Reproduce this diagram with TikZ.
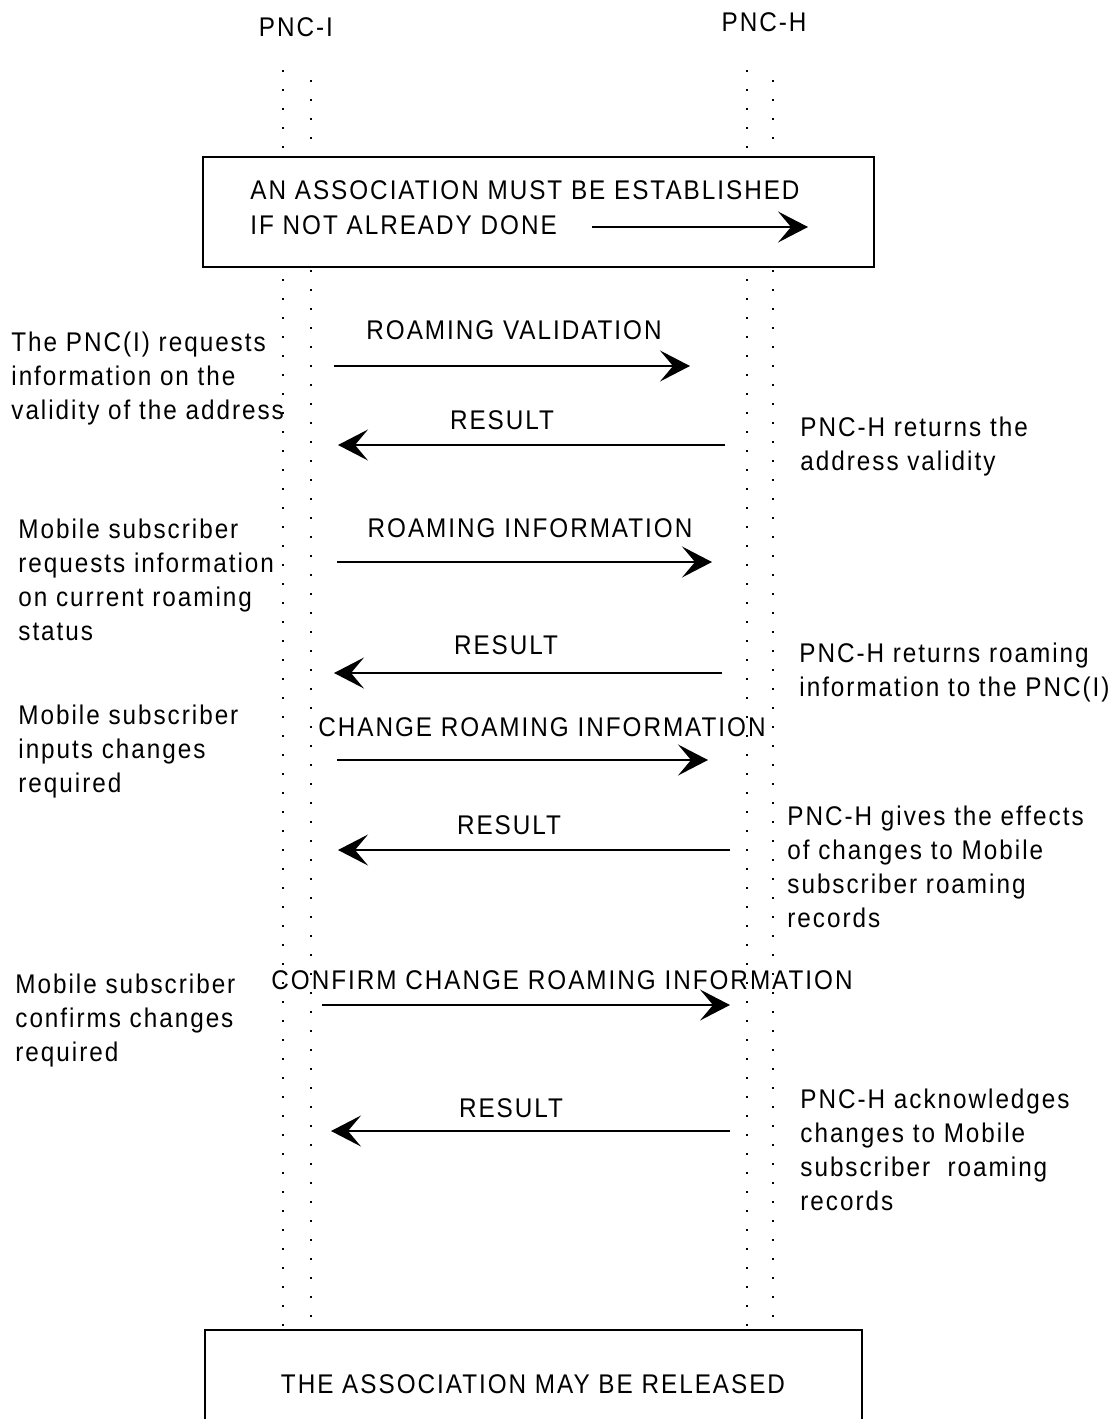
\documentclass[tikz,border=0pt]{standalone}
\usepackage{fontspec}
\setmainfont{Liberation Sans}[FakeStretch=0.9,LetterSpace=7.3]
\usetikzlibrary{arrows.meta}
\begin{document}
\begin{tikzpicture}[x=0.5pt,y=-0.5pt,
  txt/.style={font=\fontsize{13.5}{17}\selectfont, inner sep=0pt, align=left},
  lifeline/.style={line width=1pt, dash pattern=on 0.9pt off 8.6pt},
  msg/.style={line width=0.8pt, -{Stealth[length=15pt,width=15.5pt,inset=6.5pt]}},
  box/.style={draw, line width=1pt, fill=white, inner sep=0pt}]
\useasboundingbox (0,0) rectangle (1114,1419);
% heads
\node[txt] (pncI) at (296,27) {PNC-I};
\node[txt] (pncH) at (764,22) {PNC-H};
% lifelines
\coordinate (ia) at (283,70);  \coordinate (iab) at (283,1330);
\coordinate (ib) at (311,80);  \coordinate (ibb) at (311,1330);
\coordinate (ha) at (747,70);  \coordinate (hab) at (747,1330);
\coordinate (hb) at (773,80);  \coordinate (hbb) at (773,1330);
\draw[lifeline] (ia) -- (iab);
\draw[lifeline] (ib) -- (ibb);
\draw[lifeline] (ha) -- (hab);
\draw[lifeline] (hb) -- (hbb);
% box 1
\node[box, anchor=north west, minimum width=335.5pt, minimum height=55pt] (box1) at (202,156) {};
\node[txt, anchor=west] (b1a) at (250,190) {AN ASSOCIATION MUST BE ESTABLISHED};
\node[txt, anchor=west] (b1b) at (250,225) {IF NOT ALREADY DONE};
\coordinate (b1s) at (592,227); \coordinate (b1e) at (808,227);
\draw[msg] (b1s) -- (b1e);
% box 2
\node[box, anchor=north west, minimum width=328.5pt, minimum height=60pt] (box2) at (204,1329) {};
\node[txt] (b2) at (533,1384) {THE ASSOCIATION MAY BE RELEASED};
% messages
\node[txt] (m1) at (514,330) {ROAMING VALIDATION};
\coordinate (m1s) at (334,366); \coordinate (m1e) at (690,366);
\draw[msg] (m1s) -- (m1e);
\node[txt] (m2) at (502,420) {RESULT};
\coordinate (m2s) at (725,445); \coordinate (m2e) at (338,445);
\draw[msg] (m2s) -- (m2e);
\node[txt] (m3) at (530,528) {ROAMING INFORMATION};
\coordinate (m3s) at (337,562); \coordinate (m3e) at (712,562);
\draw[msg] (m3s) -- (m3e);
\node[txt] (m4) at (506,645) {RESULT};
\coordinate (m4s) at (722,673); \coordinate (m4e) at (334,673);
\draw[msg] (m4s) -- (m4e);
\node[txt] (m5) at (542,727) {CHANGE ROAMING INFORMATION};
\coordinate (m5s) at (337,760); \coordinate (m5e) at (708,760);
\draw[msg] (m5s) -- (m5e);
\node[txt] (m6) at (509,825) {RESULT};
\coordinate (m6s) at (730,850); \coordinate (m6e) at (338,850);
\draw[msg] (m6s) -- (m6e);
\node[txt] (m7) at (562,980) {CONFIRM CHANGE ROAMING INFORMATION};
\coordinate (m7s) at (322,1005); \coordinate (m7e) at (730,1005);
\draw[msg] (m7s) -- (m7e);
\node[txt] (m8) at (511,1108) {RESULT};
\coordinate (m8s) at (730,1131); \coordinate (m8e) at (331,1131);
\draw[msg] (m8s) -- (m8e);
% left notes
\node[txt, anchor=west] (l1) at (11,379) {The PNC(I) requests\\information on the\\validity of the address};
\node[txt, anchor=west] (l2) at (18,580) {Mobile subscriber\\requests information\\on current roaming\\status};
\node[txt, anchor=west] (l3) at (18,752) {Mobile subscriber\\inputs changes\\required};
\node[txt, anchor=west] (l4) at (15,1021) {Mobile subscriber\\confirms changes\\required};
% right notes
\node[txt, anchor=west] (r1) at (800,447) {PNC-H returns the\\address validity};
\node[txt, anchor=west] (r2) at (799,673) {PNC-H returns roaming\\information to the PNC(I)};
\node[txt, anchor=west] (r3) at (787,867) {PNC-H gives the effects\\of changes to Mobile\\subscriber roaming\\records};
\node[txt, anchor=west] (r4) at (800,1150) {PNC-H acknowledges\\changes to Mobile\\subscriber\ \ roaming\\records};
\end{tikzpicture}
\end{document}
